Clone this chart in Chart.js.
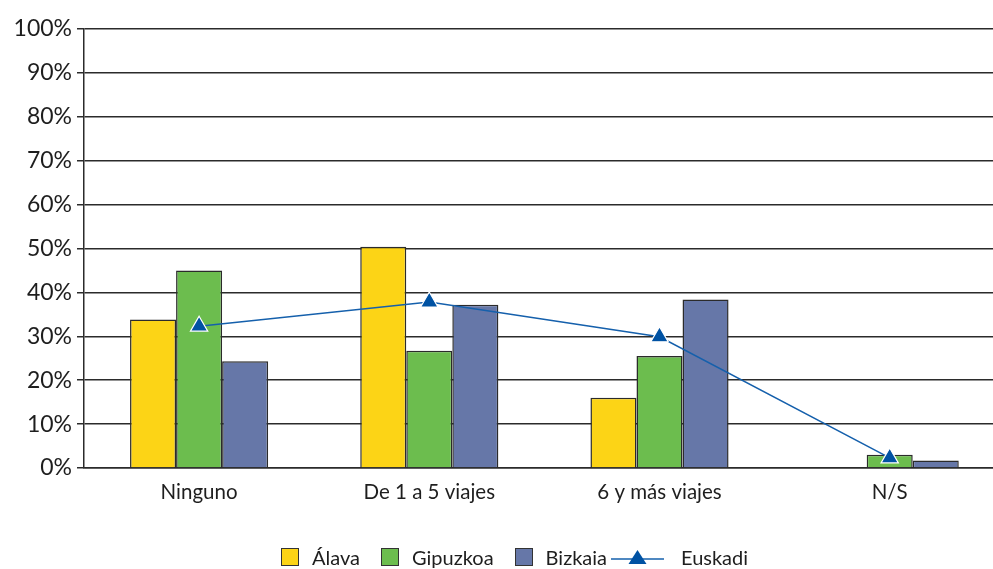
<!DOCTYPE html>
<html lang="es">
<head>
<meta charset="utf-8">
<title>Viajes por territorio</title>
<script src="https://cdn.jsdelivr.net/npm/chart.js@4.4.1/dist/chart.umd.min.js"></script>
<style>
    html, body {
        margin: 0;
        padding: 0;
        background: #fff;
        overflow: hidden;
    }
    #wrap {
        position: relative;
        width: 1016px;
        height: 569px;
    }
    #legend {
        position: absolute;
        left: 281px;
        top: 545px;
        display: flex;
        align-items: center;
        font-family: Lato, "DejaVu Sans", sans-serif;
        font-size: 20px;
        color: #1e1e1e;
    }
    #legend .item {
        display: flex;
        align-items: center;
        margin-right: 21px;
    }
    #legend .item.last {
        margin-right: 4px;
    }
    #legend .box {
        width: 18px;
        height: 18px;
        border: 1px solid #333;
        box-sizing: border-box;
        margin-right: 13px;
    }
</style>
</head>
<body>
<div id="wrap">
    <canvas id="chart" width="1016" height="569"></canvas>
    <div id="legend"></div>
</div>
<script>
const categories = ['Ninguno', 'De 1 a 5 viajes', '6 y más viajes', 'N/S'];
const alava = [33.8, 50.4, 16.0, 0];
const gipuzkoa = [45.0, 26.7, 25.5, 3.0];
const bizkaia = [24.3, 37.2, 38.4, 1.7];
const euskadi = [32.3, 37.8, 29.9, 2.3];

const colors = {
    alava: '#FCD416',
    gipuzkoa: '#6CBD4E',
    bizkaia: '#6677A8',
    euskadi: '#1560AC',
    marker: '#0052A3'
};

const font = 'Lato, "DejaVu Sans", sans-serif';

function barSet(label, data, color) {
    return {
        type: 'bar',
        label: label,
        data: data,
        backgroundColor: color,
        borderColor: '#2b2b2b',
        borderWidth: 1.5,
        barPercentage: 1,
        categoryPercentage: 0.6,
        order: 1
    };
}

const ctx = document.getElementById('chart').getContext('2d');
new Chart(ctx, {
    data: {
        labels: categories,
        datasets: [
            {
                type: 'line',
                label: 'Euskadi',
                data: euskadi,
                borderColor: colors.euskadi,
                borderWidth: 1.5,
                pointStyle: 'triangle',
                pointRadius: 10,
                pointBackgroundColor: colors.marker,
                pointBorderColor: '#ffffff',
                pointBorderWidth: 1.2,
                tension: 0,
                order: 0
            },
            barSet('Álava', alava, colors.alava),
            barSet('Gipuzkoa', gipuzkoa, colors.gipuzkoa),
            barSet('Bizkaia', bizkaia, colors.bizkaia)
        ]
    },
    options: {
        responsive: false,
        animation: false,
        layout: {
            padding: { top: 29, right: 0, left: 0, bottom: 0 }
        },
        scales: {
            x: {
                afterFit: (s) => { s.height = 101; },
                grid: { display: false },
                border: { display: true, color: '#2b2b2b', width: 1.5 },
                ticks: {
                    color: '#1e1e1e',
                    padding: 4,
                    font: { family: font, size: 20.5 }
                }
            },
            y: {
                min: 0,
                max: 100,
                afterFit: (s) => { s.width = 84; },
                ticks: {
                    stepSize: 10,
                    color: '#1e1e1e',
                    padding: 5,
                    font: { family: font, size: 23 },
                    callback: (v) => v + '%'
                },
                grid: {
                    color: '#2b2b2b',
                    lineWidth: 1.5,
                    tickLength: 7
                },
                border: { display: true, color: '#2b2b2b', width: 1.5 }
            }
        },
        plugins: {
            legend: { display: false },
            tooltip: { enabled: false }
        }
    }
});

// legend below the chart
const legend = document.getElementById('legend');
[['Álava', colors.alava], ['Gipuzkoa', colors.gipuzkoa], ['Bizkaia', colors.bizkaia]].forEach(([name, color], i) => {
    const item = document.createElement('div');
    item.className = i === 2 ? 'item last' : 'item';
    item.innerHTML = `<span class="box" style="background:${color}"></span><span>${name}</span>`;
    legend.appendChild(item);
});
const line = document.createElement('div');
line.className = 'item';
line.innerHTML = `
    <svg width="53" height="20" style="margin-right:17px">
        <line x1="0" y1="12" x2="53" y2="12" stroke="${colors.euskadi}" stroke-width="1.5"/>
        <polygon points="26.5,3 35.5,17 17.5,17" fill="${colors.marker}"/>
    </svg>
    <span>Euskadi</span>`;
legend.appendChild(line);
</script>
</body>
</html>
